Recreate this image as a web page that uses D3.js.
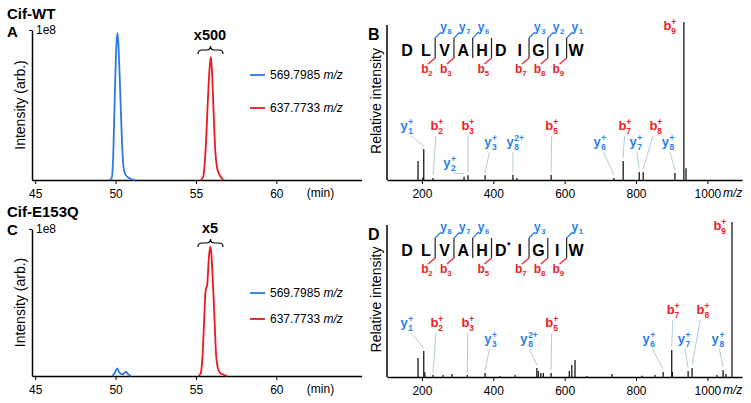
<!DOCTYPE html>
<html><head><meta charset="utf-8">
<script src="https://cdn.jsdelivr.net/npm/d3@7"></script>
<style>
body{margin:0;background:#fff}
svg{display:block}
text{font-family:Arial,'Liberation Sans',Helvetica,sans-serif}
</style>
</head><body>
<svg id="c" width="751" height="403"></svg>
<script>
// ---------------- DATA ----------------
const timeTicks = [45, 50, 55, 60];
const mzTicks = [200, 400, 600, 800, 1000];
const legendLabels = ["569.7985", "637.7733"];

// chromatograms (intensity in units of 1e8)
const wtBlueT = [49.6, 49.75, 49.85, 49.95, 50.05, 50.12, 50.2, 50.3, 50.4, 50.5, 50.6, 50.8, 51.0, 51.2];
const wtBlueI = [0, 0.01, 0.15, 0.55, 0.9, 0.98, 0.85, 0.55, 0.25, 0.08, 0.04, 0.015, 0.005, 0];
const wtRedT = [55.3, 55.45, 55.6, 55.75, 55.85, 55.93, 56.0, 56.1, 56.2, 56.3, 56.4, 56.55, 56.7];
const wtRedI = [0, 0.02, 0.2, 0.55, 0.75, 0.82, 0.72, 0.45, 0.2, 0.09, 0.05, 0.02, 0];
const muBlueT = [49.8, 49.95, 50.1, 50.25, 50.45, 50.65, 50.8, 50.95];
const muBlueI = [0, 0.02, 0.052, 0.02, 0.012, 0.03, 0.01, 0];
const muRedT = [55.15, 55.3, 55.4, 55.5, 55.6, 55.7, 55.8, 55.89, 55.95, 56.05, 56.15, 56.25, 56.35, 56.5, 56.7, 56.95];
const muRedI = [0, 0.02, 0.12, 0.35, 0.58, 0.62, 0.8, 0.88, 0.84, 0.65, 0.4, 0.15, 0.06, 0.02, 0.01, 0];

// MS/MS spectra (relative intensity %)
const wtMz  = [189, 202, 205, 231, 318, 329, 377, 455, 466, 562, 738, 764, 809, 820, 909, 934, 940];
const wtInt = [12, 1.5, 19.6, 1.3, 2, 3, 3, 3.2, 1.3, 3.2, 1.3, 12, 5, 5, 4.5, 100, 7.5];
const muMz  = [189, 205, 208, 231, 259, 284, 327, 377, 419, 461, 522, 526, 533, 540, 562, 613, 620, 629, 662, 733, 817, 853, 876, 900, 902, 946, 957, 1027, 1044, 1052, 1069];
const muInt = [12.3, 16.8, 3, 1.3, 1.3, 2, 1.3, 2.6, 0.7, 1.3, 5.8, 3.9, 2.6, 2.6, 2.6, 3.9, 7.7, 11, 0.7, 1.9, 0.8, 1.3, 3.2, 17.4, 3.2, 3.9, 5.8, 1.3, 4.5, 1.9, 100];

// ion annotations: [letter, sub, sup, label m/z, tier, annotated peak m/z]
const wtIons = [
  ["y","1","+",158,1,205], ["b","2","+",242,1,231], ["b","3","+",329,1,329],
  ["y","2","+",278,3,318], ["y","3","+",393,2,377], ["y","8","2+",455,2,455],
  ["b","5","+",564,1,562], ["y","6","+",699,2,738], ["b","7","+",769,1,764],
  ["y","7","+",800,2,809], ["b","8","+",856,1,820], ["y","8","+",890,2,909],
  ["b","9","+",895,0,null]
];
const muIons = [
  ["y","1","+",158,1,205], ["b","2","+",242,1,231], ["b","3","+",329,1,327],
  ["y","3","+",393,2,377], ["y","8","2+",494,2,522], ["b","5","+",564,1,562],
  ["y","6","+",836,2,876], ["b","7","+",904,4,900], ["y","7","+",935,2,946],
  ["b","8","+",988,4,957], ["y","8","+",1030,2,1044], ["b","9","+",1035,0,null]
];

const wtSeq = ["D","L","V","A","H","D","I","G","I","W"];
const muSeq = ["D","L","V","A","H","D*","I","G","I","W"];
const wtB = [2,3,5,7,8,9], wtY = [8,7,6,3,2,1];
const muB = [2,3,5,7,8,9], muY = [8,7,6,3,1];

// ---------------- DRAW ----------------
const BLUE = "#2a7ae2", RED = "#e8191f", LBLUE = "#2b7fe6", LRED = "#ee2228", LEAD = "#a9c7cf";
const svg = d3.select("#c");
svg.append("rect").attr("width", 751).attr("height", 403).attr("fill", "#fff");

function txt(g, x, y, s, size, opt = {}) {
  return g.append("text").attr("x", x).attr("y", y).text(s)
    .style("font-size", size + "px")
    .style("font-weight", opt.bold ? "bold" : "normal")
    .style("font-style", opt.italic ? "italic" : "normal")
    .attr("text-anchor", opt.anchor || "start")
    .attr("fill", opt.fill || "#000");
}

function brace(g, a, b, y) {
  const m = (a + b) / 2;
  g.append("path")
    .attr("d", `M${a},${y+4} Q${a},${y} ${a+4},${y} L${m-4},${y} Q${m},${y} ${m},${y-4} Q${m},${y} ${m+4},${y} L${b-4},${y} Q${b},${y} ${b},${y+4}`)
    .attr("fill", "none").attr("stroke", "#000").attr("stroke-width", 1.2);
}

function chrom(o) {
  const g = svg.append("g");
  const x = d3.scaleLinear().domain([44.8, 65.3]).range([32, 361.5]);
  const y = d3.scaleLinear().domain([0, 1]).range([o.bottom, o.top]);
  const xa = g.append("g").attr("transform", `translate(0,${o.bottom})`)
    .call(d3.axisBottom(x).tickValues(timeTicks).tickSize(4).tickSizeOuter(0));
  xa.selectAll("text").style("font-size", "12px").attr("dy", "0.95em").attr("fill", "#000");
  xa.select(".domain").attr("stroke-width", 1.5);
  const ya = g.append("g").attr("transform", `translate(32,0)`)
    .call(d3.axisLeft(y).tickValues([1]).tickSize(3).tickSizeOuter(0).tickFormat(() => "1e8"));
  ya.selectAll("text").style("font-size", "12px").attr("x", 4).attr("text-anchor", "start").attr("fill", "#000");
  ya.select(".domain").attr("stroke-width", 1.5);
  txt(g, x(61.9), o.bottom + 17, "(min)", 12);
  const line = d3.line().x(d => x(d[0])).y(d => y(d[1])).curve(d3.curveMonotoneX);
  [[o.blueT, o.blueI, BLUE], [o.redT, o.redI, RED]].forEach(([T, I, c]) => {
    g.append("path").datum(T.map((t, i) => [t, I[i]])).attr("d", line)
      .attr("fill", "none").attr("stroke", c).attr("stroke-width", 1.8);
  });
  // legend
  [[o.leg1, BLUE, legendLabels[0]], [o.leg2, RED, legendLabels[1]]].forEach(([ly, c, s]) => {
    g.append("line").attr("x1", 250).attr("x2", 265).attr("y1", ly).attr("y2", ly).attr("stroke", c).attr("stroke-width", 1.8);
    const t = txt(g, 270, ly + 4, s + " ", 12);
    t.append("tspan").style("font-style", "italic").text("m/z");
  });
  txt(g, 210, o.factorY, o.factor, 14.5, {bold: true, anchor: "middle"});
  brace(g, 198, 223, o.factorY + 10);
  txt(g, 7, o.titleY, o.title, 15, {bold: true});
  txt(g, 7, o.letterY, o.letter, 15, {bold: true});
  const my = (o.top + o.bottom) / 2;
  txt(g, 0, 0, "Intensity (arb.)", 14, {anchor: "middle"}).attr("transform", `translate(25,${my}) rotate(-90)`);
}

chrom({top: 30, bottom: 180, blueT: wtBlueT, blueI: wtBlueI, redT: wtRedT, redI: wtRedI,
  leg1: 75, leg2: 108, factor: "x500", factorY: 40, title: "Cif-WT", titleY: 19, letter: "A", letterY: 37});
chrom({top: 229, bottom: 376, blueT: muBlueT, blueI: muBlueI, redT: muRedT, redI: muRedI,
  leg1: 293, leg2: 319, factor: "x5", factorY: 233, title: "Cif-E153Q", titleY: 217, letter: "C", letterY: 235});

function ionLabel(g, x, y, L, sub, sup, color, size) {
  const x0 = x - size * 0.5;
  txt(g, x0, y, L, size, {bold: true, fill: color});
  const sx = x0 + size * 0.6;
  const ss = size * 0.65;
  if (sub) txt(g, sx, y + size * 0.28, sub, ss, {bold: true, fill: color});
  if (sup) txt(g, sx, y - size * 0.42, sup, ss, {bold: true, fill: color});
}

function spectrum(o) {
  const g = svg.append("g");
  const x = d3.scaleLinear().domain([102, 1097]).range([387, 742]);
  const y = d3.scaleLinear().domain([0, 100]).range([o.bottom, o.top]);
  // peaks
  g.selectAll("line.pk").data(o.mz).enter().append("line")
    .attr("x1", d => x(d)).attr("x2", d => x(d))
    .attr("y1", o.bottom).attr("y2", (d, i) => y(o.inten[i]))
    .attr("stroke", "#1a1a1a").attr("stroke-width", 1.3);
  // axes
  const xa = g.append("g").attr("transform", `translate(0,${o.bottom})`)
    .call(d3.axisBottom(x).tickValues(mzTicks).tickSize(4).tickSizeOuter(0).tickFormat(d3.format("d")));
  xa.selectAll("text").style("font-size", "12px").attr("dy", "0.95em").attr("fill", "#000");
  xa.select(".domain").attr("stroke-width", 1.5);
  g.append("line").attr("x1", 387).attr("x2", 387).attr("y1", o.top + 3).attr("y2", o.bottom)
    .attr("stroke", "#000").attr("stroke-width", 1.5);
  txt(g, 723, o.bottom + 17, "m/z", 12, {italic: true});
  txt(g, 368, o.top + 18, o.letter, 16, {bold: true});
  txt(g, 0, 0, "Relative intensity", 14, {anchor: "middle"}).attr("transform", `translate(381,${(o.top + o.bottom) / 2}) rotate(-90)`);
  // annotations
  const tierOff = {1: -50, 2: -34, 3: -13, 4: -63};
  o.ions.forEach(([L, sub, sup, lmz, tier, pmz]) => {
    const col = L === "y" ? LBLUE : LRED;
    const lx = x(lmz);
    const ly = tier === 0 ? o.top + 8 : o.bottom + tierOff[tier];
    ionLabel(g, lx, ly, L, sub, sup, col, 13);
    if (pmz !== null) {
      const i = o.mz.indexOf(pmz);
      const px = x(pmz), py = y(o.inten[i]) - 3;
      const sx = lx + Math.max(-4, Math.min(4, (px - lx) * 0.25));
      g.append("line").attr("x1", sx).attr("y1", ly + 6).attr("x2", px).attr("y2", py)
        .attr("stroke", LEAD).attr("stroke-width", 0.9);
    }
  });
  // sequence
  const sq = d3.scalePoint().domain(d3.range(o.seq.length)).range([407, 576]);
  const base = o.top + 34;
  o.seq.forEach((r, i) => {
    txt(g, sq(i), base, r[0], 16, {bold: true, anchor: "middle"});
    if (r.length > 1) txt(g, sq(i) + 6, base - 8, r.slice(1), 9, {bold: true});
  });
  const barX = k => (sq(k - 1) + sq(k)) / 2;
  const n = o.seq.length;
  const cuts = new Set([...o.bIons, ...o.yIons.map(v => n - v)]);
  cuts.forEach(k => {
    g.append("line").attr("x1", barX(k)).attr("x2", barX(k)).attr("y1", o.top + 16).attr("y2", o.top + 36)
      .attr("stroke", "#222").attr("stroke-width", 1.2);
  });
  o.yIons.forEach(v => {
    const bx = barX(n - v);
    g.append("line").attr("x1", bx).attr("y1", o.top + 16).attr("x2", bx + 6).attr("y2", o.top + 10)
      .attr("stroke", LBLUE).attr("stroke-width", 1.2);
    ionLabel(g, bx + 11, o.top + 9, "y", String(v), null, LBLUE, 12);
  });
  o.bIons.forEach(v => {
    const bx = barX(v);
    g.append("line").attr("x1", bx).attr("y1", o.top + 36).attr("x2", bx - 7).attr("y2", o.top + 42)
      .attr("stroke", LRED).attr("stroke-width", 1.2);
    ionLabel(g, bx - 8, o.top + 51, "b", String(v), null, LRED, 12);
  });
}

spectrum({top: 22, bottom: 180, mz: wtMz, inten: wtInt, ions: wtIons, seq: wtSeq, bIons: wtB, yIons: wtY, letter: "B"});
spectrum({top: 222, bottom: 377, mz: muMz, inten: muInt, ions: muIons, seq: muSeq, bIons: muB, yIons: muY, letter: "D"});
</script>
</body></html>
